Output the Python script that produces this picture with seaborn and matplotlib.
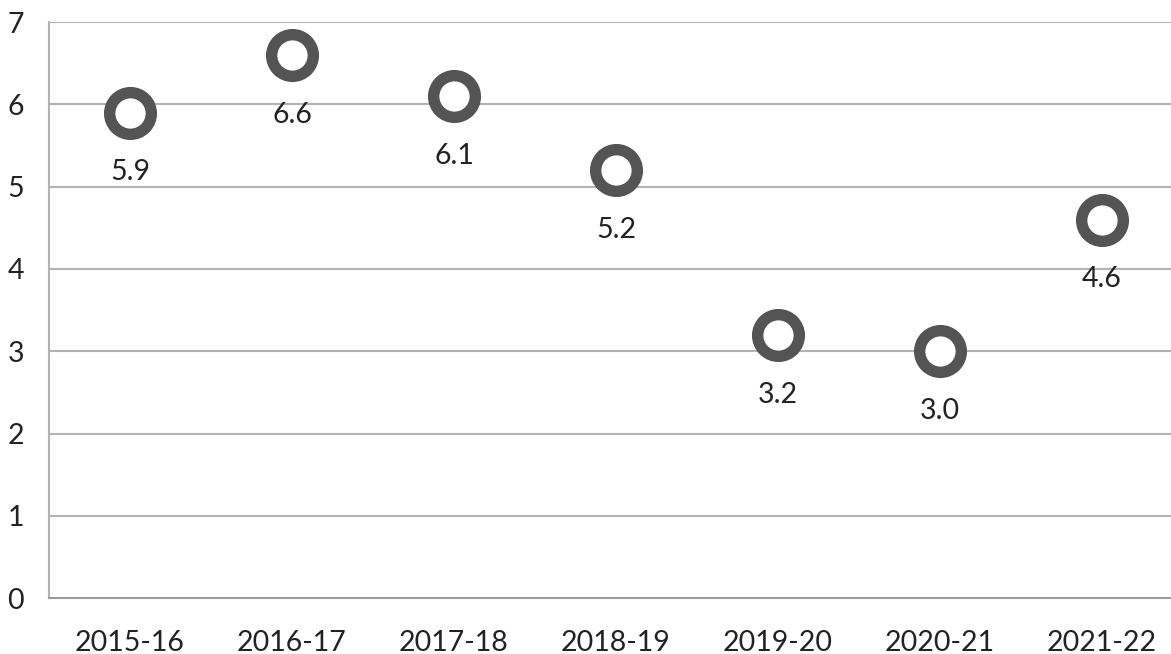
import pandas as pd
import matplotlib.pyplot as plt
import seaborn as sns
import numpy as np

# Daten
years = ["2015-16", "2016-17", "2017-18", "2018-19", "2019-20", "2020-21", "2021-22"]
values = [5.9, 6.6, 6.1, 5.2, 3.2, 3.0, 4.6]
y_ticks = [0, 1, 2, 3, 4, 5, 6, 7]

df = pd.DataFrame({"year": years, "value": values})

sns.set_theme(style="white")
plt.rcParams['font.family'] = ['Lato', 'DejaVu Sans']

fig = plt.figure(figsize=(11.71, 6.54), dpi=100)
ax = fig.add_axes([0.0418, 0.0856, 0.9684, 0.8804])

grid_col = '#b3b3b3'
ring_col = '#545454'
txt_col = '#222222'

for t in y_ticks[1:]:
    ax.axhline(t, color=grid_col, linewidth=1.5, zorder=1)

sns.scatterplot(data=df, x="year", y="value", ax=ax, marker='o', s=30**2,
                color='white', edgecolor=ring_col, linewidth=8.2, zorder=3, legend=False)

for i, v in enumerate(values):
    ax.annotate(f"{v:.1f}", xy=(i, v), xytext=(0, -43), textcoords='offset points',
                ha='center', va='center', fontsize=20.5, color=txt_col)

ax.set_xlim(-0.5, len(years) - 0.5)
ax.set_ylim(0, 7)
ax.set_yticks(y_ticks)
ax.set_xticks(range(len(years)))
ax.set_xticklabels(years)
ax.set_xticks(np.arange(-0.5, len(years), 1.0), minor=True)
ax.tick_params(axis='x', which='major', length=0, pad=23, labelsize=20.5, labelcolor=txt_col)
ax.tick_params(axis='x', which='minor', length=6, width=1.5, color=grid_col, direction='out')
ax.tick_params(axis='y', length=6, width=1.5, color=grid_col, pad=12, labelsize=20.5, labelcolor=txt_col)
ax.set_xlabel('')
ax.set_ylabel('')

for s in ['top', 'right']:
    ax.spines[s].set_visible(False)
ax.spines['left'].set_color(grid_col)
ax.spines['left'].set_linewidth(1.5)
ax.spines['bottom'].set_color('#999999')
ax.spines['bottom'].set_linewidth(1.5)

fig.savefig("out.png", dpi=100)
